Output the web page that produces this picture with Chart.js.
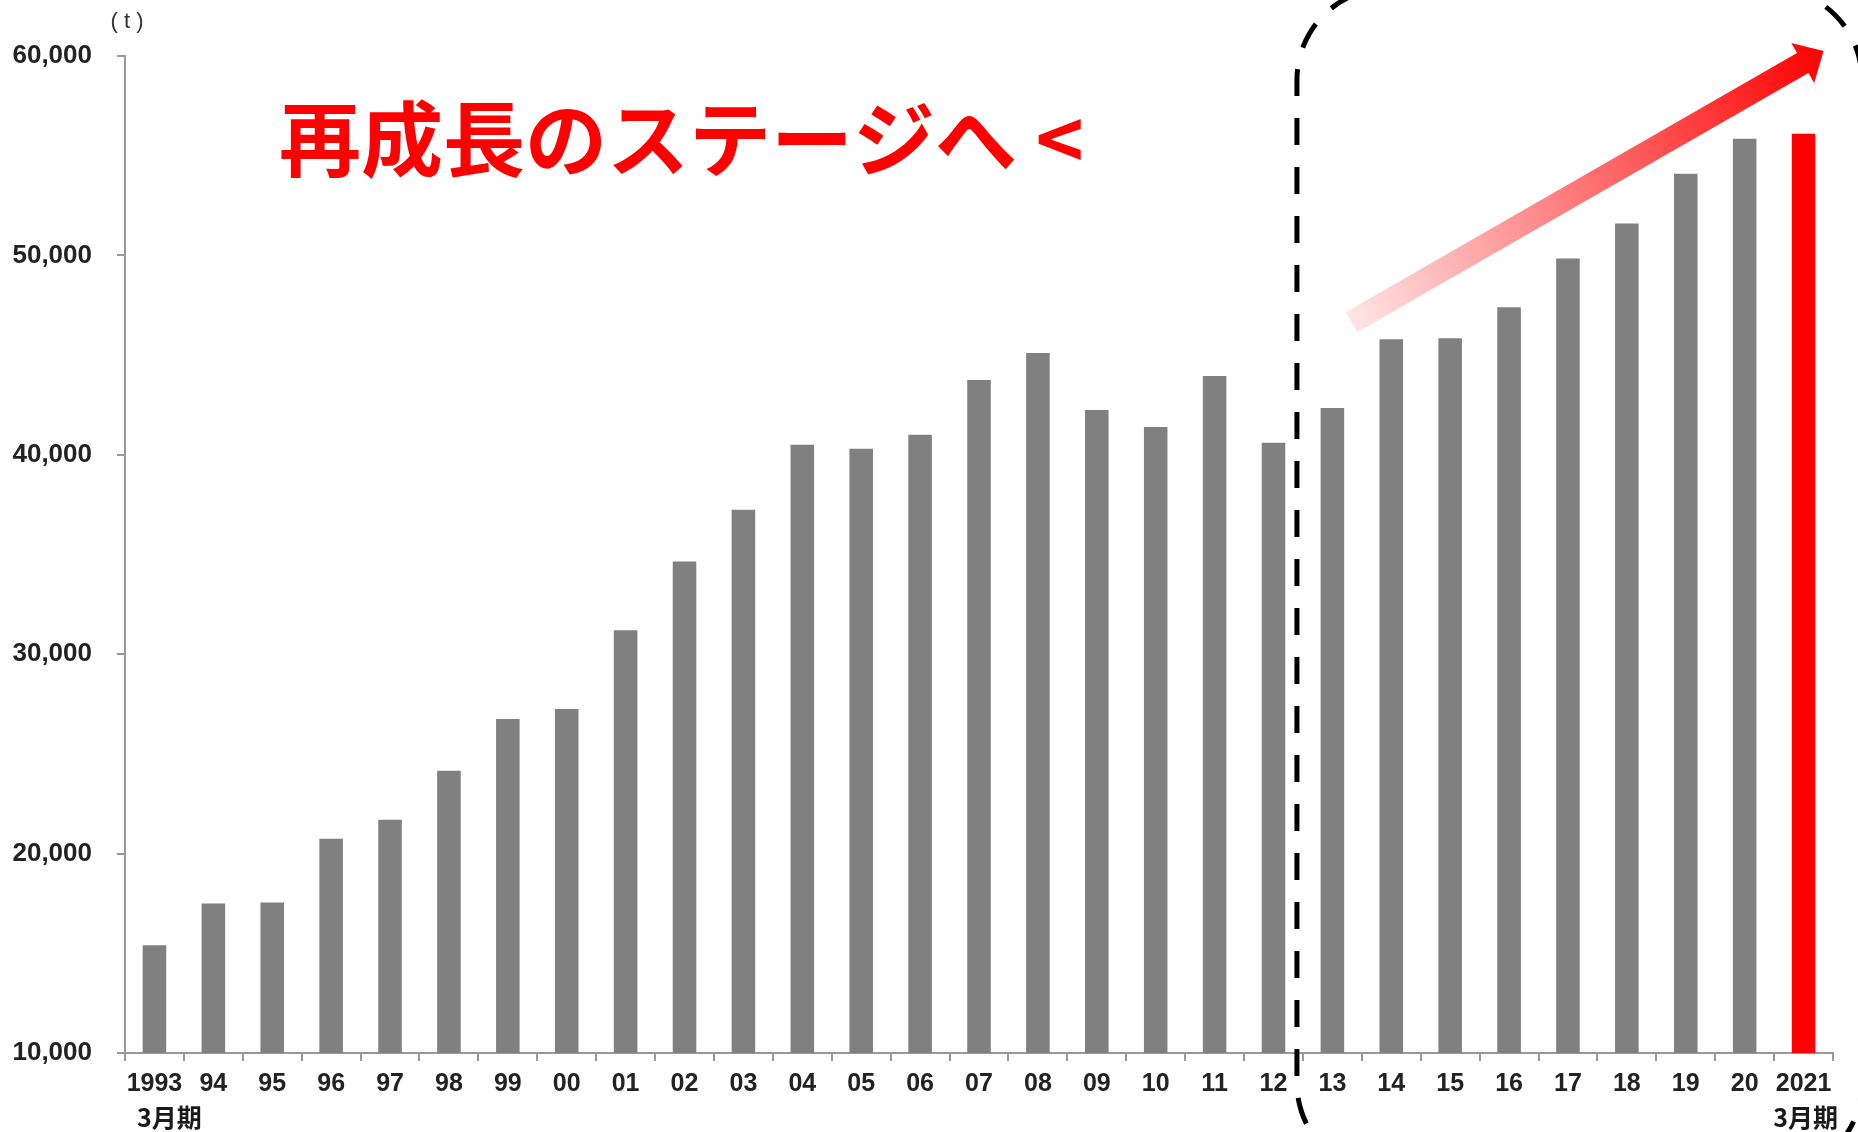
<!DOCTYPE html>
<html>
<head>
<meta charset="utf-8">
<script src="https://cdn.jsdelivr.net/npm/chart.js"></script>
<style>
  html, body { margin: 0; padding: 0; background: #fff; }
  canvas { display: block; }
</style>
</head>
<body>
<canvas id="volumeChart" width="1858" height="1132"></canvas>
<script>
// fiscal years (March year-end)
const years = ['1993','94','95','96','97','98','99','00','01','02','03','04','05','06','07',
               '08','09','10','11','12','13','14','15','16','17','18','19','20','2021'];

// sales volume (t)
const volumes = [15400, 17500, 17550, 20750, 21700, 24150, 26750, 27250, 31200, 34650,
                 37250, 40500, 40300, 41000, 43750, 45100, 42250, 41400, 43950, 40600,
                 42350, 45800, 45850, 47400, 49850, 51600, 54100, 55850, 56100];

const yTicks = [10000, 20000, 30000, 40000, 50000, 60000];

const titleText = '再成長のステージへ <';
const unitLabel = '( t )';
const periodLabel = '3月期';

const barColors = years.map((y, i) => i === years.length - 1 ? '#ff0000' : '#808080');

const overlayPlugin = {
  id: 'overlay',
  afterDraw(chart) {
    const ctx = chart.ctx;
    const x = chart.scales.x;
    const y = chart.scales.y;
    ctx.save();

    // unit label
    ctx.fillStyle = '#333';
    ctx.font = '22px "Liberation Sans", Arial, sans-serif';
    ctx.textAlign = 'center';
    ctx.textBaseline = 'middle';
    ctx.fillText(unitLabel, 127, 22);

    // period labels under first and last year
    ctx.fillStyle = '#1a1a1a';
    ctx.font = 'bold 25px "Noto Sans CJK JP", sans-serif';
    ctx.fillText(periodLabel, x.getPixelForValue(0) + 15, 1117);
    ctx.fillText(periodLabel, x.getPixelForValue(years.length - 1) + 2, 1117);

    // headline
    ctx.fillStyle = '#ff0000';
    ctx.font = 'bold 82px "Noto Sans CJK JP", sans-serif';
    ctx.textAlign = 'left';
    ctx.fillText(titleText, 279, 139);

    // gradient arrow
    const x0 = x.getPixelForValue(20) + 19, y0 = y.getPixelForValue(46650);
    const x1 = x.getPixelForValue(28) + 20, y1 = y.getPixelForValue(60250);
    const ang = Math.atan2(y1 - y0, x1 - x0);
    const len = Math.hypot(x1 - x0, y1 - y0);
    ctx.translate(x0, y0);
    ctx.rotate(ang);
    const grad = ctx.createLinearGradient(0, 0, len, 0);
    grad.addColorStop(0, 'rgba(255,0,0,0.1)');
    grad.addColorStop(1, 'rgba(255,0,0,1)');
    ctx.beginPath();
    ctx.moveTo(0, -11.5);
    ctx.lineTo(len - 24, -11.5);
    ctx.lineTo(len - 24, -23);
    ctx.lineTo(len, 0);
    ctx.lineTo(len - 24, 23);
    ctx.lineTo(len - 24, 11.5);
    ctx.lineTo(0, 11.5);
    ctx.closePath();
    ctx.fillStyle = grad;
    ctx.fill();
    ctx.setTransform(1, 0, 0, 1, 0, 0);

    // dashed frame around the re-growth period
    const left = (x.getPixelForValue(19) + x.getPixelForValue(20)) / 2 - 6;
    ctx.beginPath();
    ctx.roundRect(left, -12, chart.width + 4 - left, chart.height + 55, 92);
    ctx.lineWidth = 5;
    ctx.strokeStyle = '#000';
    ctx.setLineDash([27, 22]);
    ctx.stroke();

    ctx.restore();
  }
};

new Chart(document.getElementById('volumeChart'), {
  type: 'bar',
  data: {
    labels: years,
    datasets: [{
      data: volumes,
      backgroundColor: barColors,
      borderWidth: 0,
      barPercentage: 0.4,
      categoryPercentage: 1.0
    }]
  },
  options: {
    responsive: false,
    animation: false,
    layout: { padding: { top: 56, right: 25, left: 0, bottom: 0 } },
    plugins: { legend: { display: false }, tooltip: { enabled: false } },
    scales: {
      x: {
        afterFit: (s) => { s.height = 79; },
        border: { color: '#999', width: 2 },
        grid: { display: true, drawOnChartArea: false, drawTicks: true, tickLength: 8, color: '#999', lineWidth: 2 },
        ticks: {
          color: '#222',
          font: { family: '"Liberation Sans", Arial, sans-serif', size: 25, weight: 'bold' },
          padding: 8,
          maxRotation: 0,
          autoSkip: false
        }
      },
      y: {
        min: yTicks[0],
        max: yTicks[yTicks.length - 1],
        afterFit: (s) => { s.width = 125; },
        afterBuildTicks: (s) => { s.ticks = yTicks.map(v => ({ value: v })); },
        border: { color: '#999', width: 2 },
        grid: { display: true, drawOnChartArea: false, drawTicks: true, tickLength: 8, color: '#999', lineWidth: 2 },
        ticks: {
          color: '#222',
          font: { family: '"Liberation Sans", Arial, sans-serif', size: 26, weight: 'bold' },
          padding: 25,
          callback: (v) => v.toLocaleString('en-US')
        }
      }
    }
  },
  plugins: [overlayPlugin]
});
</script>
</body>
</html>
